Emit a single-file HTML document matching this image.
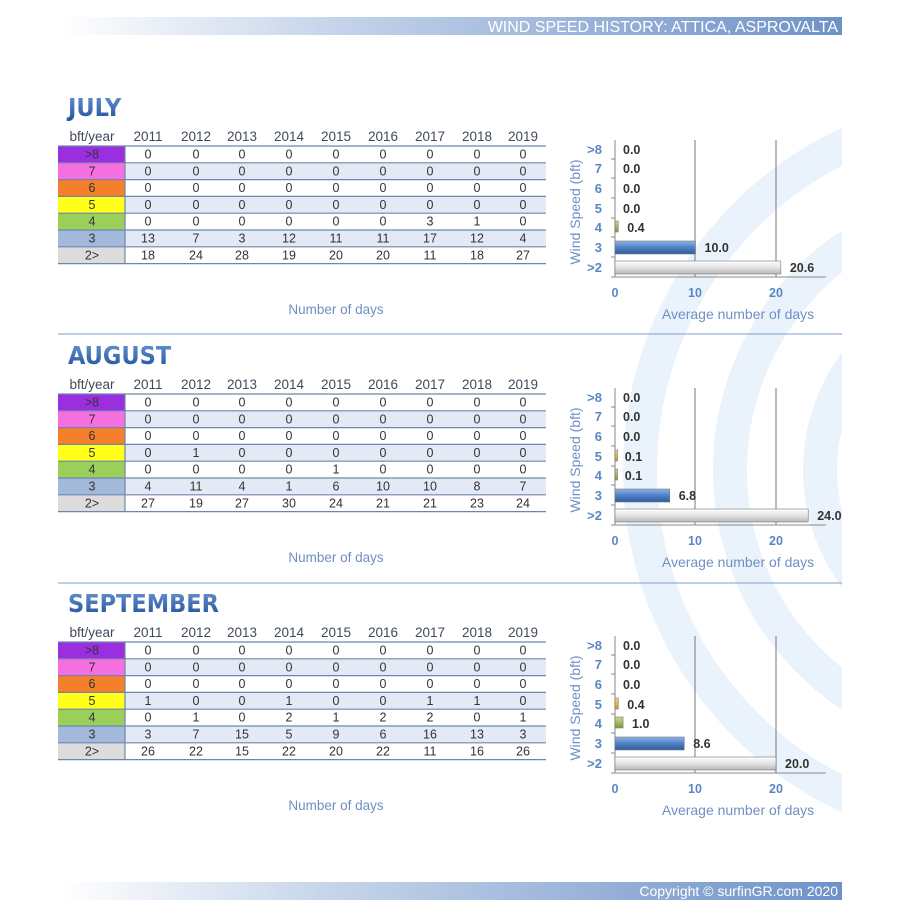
<!DOCTYPE html>
<html><head><meta charset="utf-8"><style>
body{margin:0;background:#fff;}
svg{display:block;font-family:"Liberation Sans",sans-serif;}
</style></head><body>
<svg id="s" width="900" height="900" viewBox="0 0 900 900" xmlns="http://www.w3.org/2000/svg">
<defs>
<linearGradient id="hb" x1="0" x2="1"><stop offset="0" stop-color="#fff"/><stop offset="0.35" stop-color="#c5d4ea"/><stop offset="1" stop-color="#6e92c8"/></linearGradient>
<linearGradient id="gb" x1="0" y1="0" x2="0" y2="1"><stop offset="0" stop-color="#8fb4e6"/><stop offset="0.5" stop-color="#4f7fc6"/><stop offset="1" stop-color="#2f5d9e"/></linearGradient>
<linearGradient id="gw" x1="0" y1="0" x2="0" y2="1"><stop offset="0" stop-color="#fff"/><stop offset="0.5" stop-color="#e4e4e4"/><stop offset="1" stop-color="#b8b8b8"/></linearGradient>
<linearGradient id="gg" x1="0" y1="0" x2="0" y2="1"><stop offset="0" stop-color="#c8dc8a"/><stop offset="1" stop-color="#7f9a3a"/></linearGradient>
<linearGradient id="gy" x1="0" y1="0" x2="0" y2="1"><stop offset="0" stop-color="#f5d680"/><stop offset="1" stop-color="#c89a20"/></linearGradient>
<linearGradient id="tt" x1="0" y1="0" x2="0" y2="1"><stop offset="0" stop-color="#6a96d4"/><stop offset="1" stop-color="#1f4f9a"/></linearGradient>
</defs>
<g fill="none" stroke="#eaf3fc" stroke-width="34">
<circle cx="1000" cy="470" r="360"/>
<circle cx="1000" cy="470" r="270"/>
<circle cx="1000" cy="470" r="180"/>
</g>
<rect x="842" y="0" width="58" height="900" fill="#fff"/>
<rect x="60" y="17" width="782" height="18" fill="url(#hb)"/>
<text x="838" y="32" text-anchor="end" fill="#fff" font-size="16">WIND SPEED HISTORY: ATTICA, ASPROVALTA</text>
<rect x="60" y="882" width="782" height="18" fill="url(#hb)"/>
<text x="838" y="896" text-anchor="end" fill="#fff" font-size="14">Copyright © surfinGR.com 2020</text>
<line x1="58" y1="334" x2="842" y2="334" stroke="#7d9ccc" stroke-width="1"/>
<line x1="58" y1="583" x2="842" y2="583" stroke="#7d9ccc" stroke-width="1"/>
<g id="content"></g>
</svg>
<script>
const months=[
{name:"JULY",off:0,data:[[0,0,0,0,0,0,0,0,0],[0,0,0,0,0,0,0,0,0],[0,0,0,0,0,0,0,0,0],[0,0,0,0,0,0,0,0,0],[0,0,0,0,0,0,3,1,0],[13,7,3,12,11,11,17,12,4],[18,24,28,19,20,20,11,18,27]],avg:[0,0,0,0,0.4,10.0,20.6]},
{name:"AUGUST",off:248,data:[[0,0,0,0,0,0,0,0,0],[0,0,0,0,0,0,0,0,0],[0,0,0,0,0,0,0,0,0],[0,1,0,0,0,0,0,0,0],[0,0,0,0,1,0,0,0,0],[4,11,4,1,6,10,10,8,7],[27,19,27,30,24,21,21,23,24]],avg:[0,0,0,0.1,0.1,6.8,24.0]},
{name:"SEPTEMBER",off:496,data:[[0,0,0,0,0,0,0,0,0],[0,0,0,0,0,0,0,0,0],[0,0,0,0,0,0,0,0,0],[1,0,0,1,0,0,1,1,0],[0,1,0,2,1,2,2,0,1],[3,7,15,5,9,6,16,13,3],[26,22,15,22,20,22,11,16,26]],avg:[0,0,0,0.4,1.0,8.6,20.0]}
];
const labs=[">8","7","6","5","4","3","2>"];
const cols=["#9b2fe0","#f56fe0","#f57f2a","#ffff1a","#9ad05a","#a3b9dc","#dcdcdc"];
const xs=[148,196,242,289,336,383,430,477,523];
let h="";
for(const m of months){
 const o=m.off;
 h+=`<text x="68" y="${o+116}" font-size="25" font-weight="bold" fill="url(#tt)" font-family="'DejaVu Sans Condensed','Liberation Sans',sans-serif">${m.name}</text>`;
 h+=`<text x="92" y="${o+141}" text-anchor="middle" font-size="13.5" fill="#404a5a">bft/year</text>`;
 xs.forEach((x,i)=>h+=`<text x="${x}" y="${o+141}" text-anchor="middle" font-size="13.5" fill="#404a5a">${2011+i}</text>`);
 const rh=16.8, top=o+146;
 for(let r=0;r<7;r++){
  const y=top+r*rh;
  h+=`<rect x="125" y="${y}" width="421" height="${rh}" fill="${r%2?'#e3eaf5':'#fff'}"/>`;
  h+=`<rect x="58" y="${y}" width="67" height="${rh}" fill="${cols[r]}"/>`;
  h+=`<text x="92" y="${y+12.5}" text-anchor="middle" font-size="12.5" fill="#333">${labs[r]}</text>`;
  m.data[r].forEach((v,i)=>h+=`<text x="${xs[i]}" y="${y+12.5}" text-anchor="middle" font-size="12.5" fill="#333">${v}</text>`);
  h+=`<line x1="58" y1="${y}" x2="546" y2="${y}" stroke="#6f86aa" stroke-width="1.2"/>`;
 }
 h+=`<line x1="58" y1="${top+7*rh}" x2="546" y2="${top+7*rh}" stroke="#6f86aa" stroke-width="1.2"/>`;
 h+=`<line x1="125" y1="${top}" x2="125" y2="${top+7*rh}" stroke="#6f86aa" stroke-width="1.2"/>`;
 h+=`<text x="336" y="${o+314}" text-anchor="middle" font-size="13.5" fill="#6e8fc4">Number of days</text>`;
 const x0=615,sc=8.05,by=o+277;
 h+=`<line x1="695" y1="${o+140}" x2="695" y2="${by}" stroke="#777" stroke-width="1"/>`;
 h+=`<line x1="776" y1="${o+140}" x2="776" y2="${by}" stroke="#777" stroke-width="1"/>`;
 h+=`<line x1="${x0}" y1="${o+140}" x2="${x0}" y2="${by}" stroke="#888" stroke-width="1"/>`;
 h+=`<line x1="${x0}" y1="${by}" x2="826" y2="${by}" stroke="#888" stroke-width="1"/>`;
 const ys=[149,168,188,208,227,247,267];
 const yl=[">8","7","6","5","4","3",">2"];
 const fills=["url(#gy)","url(#gy)","url(#gy)","url(#gy)","url(#gg)","url(#gb)","url(#gw)"];
 for(let r=0;r<7;r++){
  const y=o+ys[r], v=m.avg[r], w=v*sc;
  h+=`<line x1="${x0-4}" y1="${y+10}" x2="${x0}" y2="${y+10}" stroke="#888"/>`;
  h+=`<text x="602" y="${y+5}" text-anchor="end" font-size="13" font-weight="bold" fill="#5a86c4">${yl[r]}</text>`;
  if(w>0) h+=`<rect x="${x0}" y="${y-6}" width="${Math.max(w,2.5)}" height="${r>=5?13:11}" fill="${fills[r]}" stroke="#777" stroke-width="0.6"/>`;
  h+=`<text x="${x0+Math.max(w,0)+ (w>0?9:8)}" y="${y+5}" font-size="12.5" font-weight="bold" fill="#333">${v.toFixed(1)}</text>`;
 }
 [[0,615],[10,695],[20,776]].forEach(([t,x])=>h+=`<text x="${x}" y="${o+297}" text-anchor="middle" font-size="12.5" font-weight="bold" fill="#5a86c4">${t}</text>`);
 h+=`<text x="738" y="${o+319}" text-anchor="middle" font-size="14" fill="#6e8fc4">Average number of days</text>`;
 h+=`<text transform="translate(580,${o+212}) rotate(-90)" text-anchor="middle" font-size="14" fill="#6e8fc4">Wind Speed (bft)</text>`;
}
document.getElementById("content").innerHTML=h;
</script>
</body></html>
